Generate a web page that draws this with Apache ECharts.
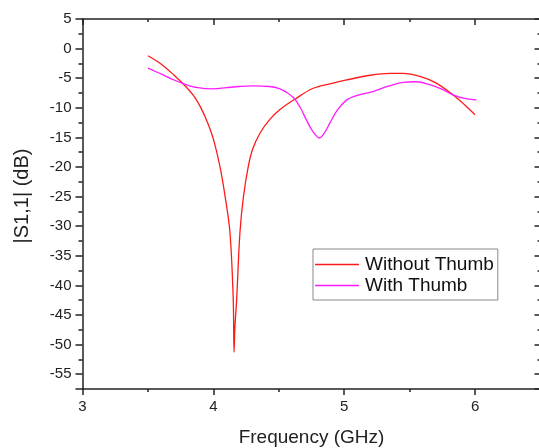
<!DOCTYPE html>
<html>
<head>
<meta charset="utf-8">
<script src="https://cdn.jsdelivr.net/npm/echarts@6/dist/echarts.min.js"></script>
<style>html,body{margin:0;padding:0;background:#fff;}#c{width:539px;height:448px;}</style>
</head>
<body>
<div id="c"></div>
<script>
var seriesNames = ['Without Thumb', 'With Thumb'];
var freqWithout = [3.50,3.60,3.70,3.78,3.85,3.90,3.95,4.00,4.05,4.09,4.127,4.152,4.158,4.165,4.178,4.203,4.23,4.267,4.30,4.356,4.43,4.509,4.623,4.763,4.90,5.018,5.20,5.35,5.45,5.578,5.70,5.83,5.92,6.00];
var s11Without = [-1.2,-2.6,-4.5,-6.2,-8.0,-9.8,-12.2,-15.3,-19.9,-25.0,-31.1,-42.4,-51.3,-47.0,-42.4,-31.1,-25.0,-19.9,-17.0,-14.3,-12.0,-10.3,-8.55,-6.7,-5.9,-5.3,-4.5,-4.2,-4.2,-4.7,-5.8,-7.8,-9.5,-11.2];
var freqWith = [3.50,3.617,3.70,3.78,3.88,4.00,4.10,4.20,4.30,4.43,4.509,4.56,4.623,4.67,4.71,4.76,4.81,4.85,4.89,4.95,5.02,5.10,5.22,5.33,5.45,5.55,5.655,5.75,5.83,5.92,6.01];
var s11With = [-3.3,-4.45,-5.3,-6.0,-6.6,-6.8,-6.6,-6.4,-6.3,-6.4,-6.8,-7.4,-8.55,-10.2,-12.0,-14.0,-15.1,-14.2,-12.6,-10.3,-8.66,-7.9,-7.26,-6.4,-5.7,-5.6,-6.1,-6.9,-7.8,-8.4,-8.66];
var xTicks = [3,4,5,6];
var yTicks = [5,0,-5,-10,-15,-20,-25,-30,-35,-40,-45,-50,-55];

function pairs(xs, ys){ return xs.map(function(x,i){ return [x, ys[i]]; }); }

var FONT = '"Liberation Sans", Arial, sans-serif';
var axisLineStyle = {color:'#222', width:1.5};
var chart = echarts.init(document.getElementById('c'), null, {renderer:'canvas'});
chart.setOption({
  animation:false,
  backgroundColor:'#fff',
  grid:{left:82.5, top:19, width:458, height:370, containLabel:false, outerBoundsMode:'none'},
  legend:{
    left:313, top:249, orient:'vertical',
    padding:[5,4,4,2], itemGap:0, itemWidth:44, itemHeight:14,
    borderColor:'#888', borderWidth:1, backgroundColor:'#fff',
    textStyle:{fontFamily:FONT, fontSize:19, lineHeight:21, color:'#111', padding:[0,0,0,1]},
    data:[
      {name:seriesNames[0], icon:'path://M0,0L44,0L44,1.4L0,1.4Z'},
      {name:seriesNames[1], icon:'path://M0,0L44,0L44,1.4L0,1.4Z'}
    ]
  },
  xAxis:[{
    type:'value', min:3, max:6.5, interval:1, position:'bottom',
    name:'Frequency (GHz)', nameLocation:'middle', nameGap:39,
    nameTextStyle:{fontFamily:FONT, fontSize:19, color:'#222'},
    axisLine:{show:true, onZero:false, lineStyle:axisLineStyle},
    axisTick:{show:true, inside:false, length:6, lineStyle:{color:'#222', width:1.5}},
    minorTick:{show:true, splitNumber:2, length:3, lineStyle:{color:'#222', width:1.5}},
    axisLabel:{fontFamily:FONT, fontSize:15, color:'#222', margin:10,
      formatter:function(v){ return xTicks.indexOf(v) >= 0 ? String(v) : ''; }},
    splitLine:{show:false}
  },{
    type:'value', min:3, max:6.5, interval:1, position:'top',
    axisLine:{show:true, onZero:false, lineStyle:axisLineStyle},
    axisTick:{show:true, inside:true, length:6, lineStyle:{color:'#222', width:1.5}},
    minorTick:{show:true, splitNumber:2, length:3, lineStyle:{color:'#222', width:1.5}},
    axisLabel:{show:false}, splitLine:{show:false}
  }],
  yAxis:[{
    type:'value', min:-57.5, max:5, splitNumber:12, minInterval:5, maxInterval:5, position:'left',
    name:'|S1,1| (dB)', nameLocation:'middle', nameGap:50,
    nameTextStyle:{fontFamily:FONT, fontSize:20, color:'#222', padding:[0,0,0,16]},
    axisLine:{show:true, onZero:false, lineStyle:axisLineStyle},
    axisTick:{show:true, inside:false, length:7, lineStyle:{color:'#222', width:1.5}},
    minorTick:{show:true, splitNumber:2, length:4, lineStyle:{color:'#222', width:1.5}},
    axisLabel:{fontFamily:FONT, fontSize:15, color:'#222', margin:11,
      formatter:function(v){ return yTicks.indexOf(v) >= 0 ? String(v) : ''; }},
    splitLine:{show:false}
  },{
    type:'value', min:-57.5, max:5, splitNumber:12, minInterval:5, maxInterval:5, position:'right',
    axisLine:{show:true, onZero:false, lineStyle:axisLineStyle},
    axisTick:{show:true, inside:true, length:6, lineStyle:{color:'#222', width:1.5}},
    minorTick:{show:true, splitNumber:2, length:3, lineStyle:{color:'#222', width:1.5}},
    axisLabel:{show:false}, splitLine:{show:false}
  }],
  series:[{
    name:seriesNames[0], type:'line', showSymbol:false, symbol:'none',
    smooth:0.35,
    lineStyle:{color:'#ff1a1a', width:1.3}, itemStyle:{color:'#ff1a1a'},
    data:pairs(freqWithout, s11Without)
  },{
    name:seriesNames[1], type:'line', showSymbol:false, symbol:'none',
    smooth:0.35,
    lineStyle:{color:'#ff1aff', width:1.3}, itemStyle:{color:'#ff1aff'},
    data:pairs(freqWith, s11With)
  }]
});
</script>
</body>
</html>
